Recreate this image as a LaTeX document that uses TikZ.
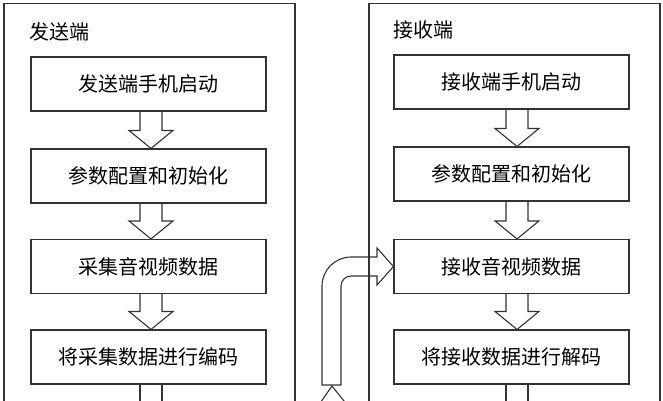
\documentclass[tikz,border=0pt]{standalone}
\usepackage{fontspec}
\newfontfamily\cjk{Noto Sans CJK SC}
\usetikzlibrary{calc}
\definecolor{ln}{HTML}{333333}
\newcommand{\dnarrow}[3]{%
  \draw[arr] ($(#1.south)+(#3-11,0)$) -- ($(#2.north)+(#3-11,-18)$)
    -- ($(#2.north)+(#3-22,-18)$) -- ($(#2.north)+(#3,0)$)
    -- ($(#2.north)+(#3+22,-18)$) -- ($(#2.north)+(#3+11,-18)$)
    -- ($(#1.south)+(#3+11,0)$);}
\begin{document}
\begin{tikzpicture}[x=1pt,y=-1pt,
  arr/.style={draw=ln, line width=1.1pt, line join=miter},
  panel/.style={draw=ln, line width=1.1pt},
  box/.style={draw=ln, line width=1.1pt, minimum width=235pt, minimum height=54pt,
    inner sep=0pt, font=\cjk\fontsize{20}{20}\selectfont, text=black},
  title/.style={anchor=west, inner sep=0pt, font=\cjk\fontsize{20}{20}\selectfont, text=black}]
\useasboundingbox (0,0) rectangle (663,400);
\fill[white] (0,0) rectangle (663,400);
% panels
\draw[panel] (4,430) -- (4,3.5) -- (295,3.5) -- (295,430);
\draw[panel] (369,430) -- (369,3.5) -- (660,3.5) -- (660,430);
% titles
\node[title] (LT) at (29,32) {发送端};
\node[title] (RT) at (393,30) {接收端};
% left boxes
\node[box] (L1) at (148.5,84) {发送端手机启动};
\node[box] (L2) at (148.5,176) {参数配置和初始化};
\node[box] (L3) at (148.5,266.5) {采集音视频数据};
\node[box] (L4) at (148.5,357) {将采集数据进行编码};
% right boxes
\node[box] (R1) at (511.5,82) {接收端手机启动};
\node[box] (R2) at (511.5,174) {参数配置和初始化};
\node[box] (R3) at (511.5,266.5) {接收音视频数据};
\node[box] (R4) at (511.5,357) {将接收数据进行解码};
% block arrows
\dnarrow{L1}{L2}{2.5}
\dnarrow{L2}{L3}{2.5}
\dnarrow{L3}{L4}{2.5}
\dnarrow{R1}{R2}{5.5}
\dnarrow{R2}{R3}{5.5}
\dnarrow{R3}{R4}{5.5}
% shafts leaving the bottom
\draw[arr] ($(L4.south)+(-8.5,0)$) -- +(0,40);
\draw[arr] ($(L4.south)+(13.5,0)$) -- +(0,40);
\draw[arr] ($(R4.south)+(-5.5,0)$) -- +(0,40);
\draw[arr] ($(R4.south)+(16.5,0)$) -- +(0,40);
% bent arrow into R3
\coordinate (B0) at (322,385);
\draw[arr] (B0) -- (322,286) .. controls (322,270) and (335,257) .. (351,257)
  -- (377,257) -- (377,248) -- (R3.west) -- (377,285) -- (377,276)
  -- (351,276) .. controls (345.5,276) and (341,280.5) .. (341,286)
  -- (341,385) -- cycle;
% arrowhead coming from below
\coordinate (H0) at (318,406);
\coordinate (H2) at (348,406);
\draw[arr] (H0) -- (332,386) -- (H2);
\end{tikzpicture}
\end{document}
